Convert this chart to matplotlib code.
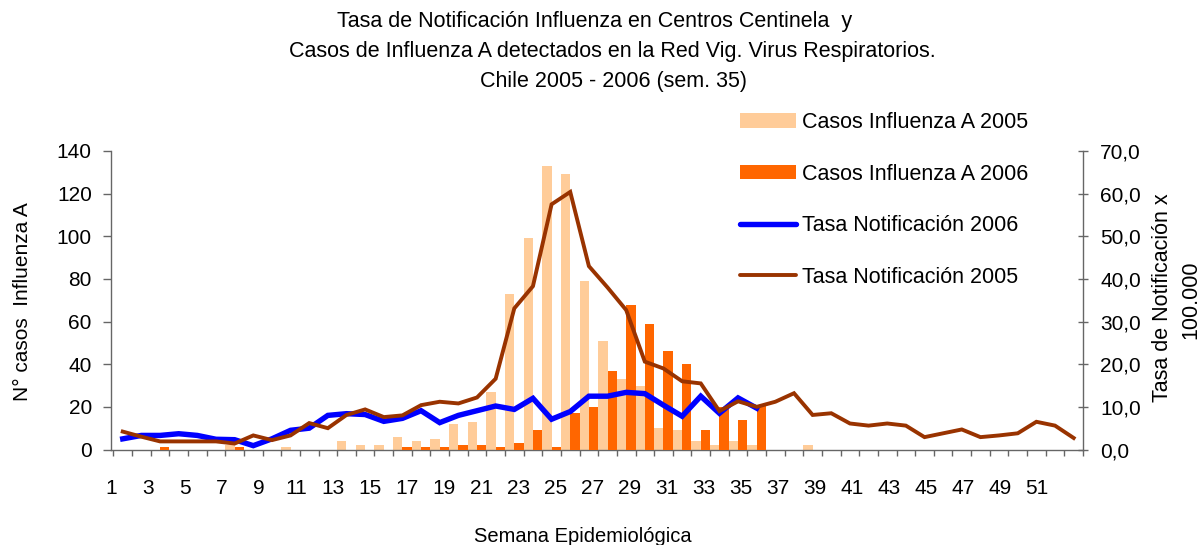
import numpy as np
import matplotlib
matplotlib.use("Agg")
import matplotlib.pyplot as plt
from matplotlib.patches import Patch
from matplotlib.lines import Line2D

plt.rcParams['font.family'] = ['Liberation Sans', 'DejaVu Sans']

# ---------------- data ----------------
weeks = list(range(1, 53))
casos_2005 = [0, 0, 0, 0, 0, 0, 2, 0, 0, 1, 0, 0, 4, 2, 2, 6, 4, 5, 12, 13,
              27, 73, 99, 133, 129, 79, 51, 33, 30, 10, 9, 4, 2, 4, 2, 0, 0, 2,
              0, 0, 0, 0, 0, 0, 0, 0, 0, 0, 0, 0, 0, 0]
weeks_2006 = list(range(1, 36))
casos_2006 = [0, 0, 1, 0, 0, 0, 1, 0, 0, 0, 0, 0, 0, 0, 0, 1, 1, 1, 2, 2,
              1, 3, 9, 1, 17, 20, 37, 68, 59, 46, 40, 9, 20, 14, 21]
tasa_2006 = [2.5, 3.3, 3.3, 3.7, 3.3, 2.4, 2.3, 0.9, 2.5, 4.5, 5.0, 8.0, 8.4,
             8.2, 6.6, 7.3, 9.1, 6.3, 8.0, 9.1, 10.2, 9.4, 12.0, 7.1, 8.9,
             12.5, 12.5, 13.4, 13.1, 10.4, 7.8, 12.5, 8.5, 12.1, 9.7]
tasa_2005 = [4.2, 3.0, 1.9, 1.9, 1.9, 1.9, 1.4, 3.3, 2.2, 3.3, 6.2, 5.0, 8.1,
             9.4, 7.6, 8.0, 10.4, 11.2, 10.8, 12.2, 16.6, 33.1, 38.3, 57.5,
             60.4, 43.0, 38.0, 32.7, 20.6, 19.0, 16.0, 15.5, 9.0, 11.3, 10.0,
             11.2, 13.2, 8.1, 8.5, 6.1, 5.6, 6.1, 5.6, 2.9, 3.8, 4.7, 2.9, 3.3,
             3.8, 6.5, 5.6, 2.7]
x_labels = [str(w) for w in range(1, 53, 2)]
left_ticks = [0, 20, 40, 60, 80, 100, 120, 140]
right_ticks = [0, 10, 20, 30, 40, 50, 60, 70]

c_2005 = '#FFCC99'
c_2006 = '#FF6600'
c_blue = '#0000FF'
c_brown = '#993300'
c_axis = '#666666'

W, H = 1204, 545
fig = plt.figure(figsize=(W / 100, H / 100), dpi=100)
ax = fig.add_axes([111 / W, 95.5 / H, 972 / W, 298.5 / H])

wk = np.array(weeks)
wk6 = np.array(weeks_2006)
ax.bar(wk - 0.25, casos_2005, width=0.5, color=c_2005, linewidth=0, zorder=2)
ax.bar(wk6 + 0.25, casos_2006, width=0.5, color=c_2006, linewidth=0, zorder=3)

ax.set_xlim(0.5, 52.5)
ax.set_ylim(0, 140)
ax.set_yticks(left_ticks)
ax.set_yticklabels([str(v) for v in left_ticks])

# x labels (slightly drifted like the source rendering)
lab_idx = np.arange(1, 53, 2)
ax.set_xticks(0.37 + (lab_idx - 1) * 0.9935)
ax.set_xticklabels(x_labels)
ax.set_xticks(np.arange(0.5, 53, 1), minor=True)
ax.tick_params(axis='x', which='major', length=0, pad=21, labelsize=15)
ax.tick_params(axis='x', which='minor', length=4, width=1, direction='out', color=c_axis)
ax.tick_params(axis='y', which='major', length=5.8, width=1, direction='out',
               color=c_axis, pad=8, labelsize=15)
for s in ['top', 'right']:
    ax.spines[s].set_visible(False)
for s in ['left', 'bottom']:
    ax.spines[s].set_color(c_axis)
    ax.spines[s].set_linewidth(1)

ax2 = ax.twinx()
ax2.set_ylim(0, 70)
ax2.set_yticks(right_ticks)
ax2.set_yticklabels([f"{v:.1f}".replace('.', ',') for v in right_ticks])
ax2.tick_params(axis='y', which='major', length=7, width=1, direction='inout',
                color=c_axis, pad=9, labelsize=15)
for s in ['top', 'left', 'bottom']:
    ax2.spines[s].set_visible(False)
ax2.spines['right'].set_color(c_axis)
ax2.spines['right'].set_linewidth(1)

ax2.plot(wk6, tasa_2006, color=c_blue, linewidth=3.9, solid_joinstyle='miter', zorder=3)
ax2.plot(wk, tasa_2005, color=c_brown, linewidth=2.8, solid_joinstyle='miter', zorder=4)

# titles and labels
fig.text(595 / W, 1 - 21 / H, 'Tasa de Notificación Influenza en Centros Centinela  y',
         ha='center', va='center', fontsize=15.5)
fig.text(612 / W, 1 - 52 / H,
         'Casos de Influenza A detectados en la Red Vig. Virus Respiratorios.',
         ha='center', va='center', fontsize=15.5)
fig.text(613 / W, 1 - 82 / H, 'Chile 2005 - 2006 (sem. 35)',
         ha='center', va='center', fontsize=15.5)
fig.text(582.5 / W, 1 - 537 / H, 'Semana Epidemiológica',
         ha='center', va='center', fontsize=14.5)
fig.text(22 / W, 1 - 302 / H, 'N° casos  Influenza A', rotation=90,
         ha='center', va='center', fontsize=15)
fig.text(1162 / W, 1 - 298 / H, 'Tasa de Notificación x', rotation=90,
         ha='center', va='center', fontsize=15.5)
fig.text(1191 / W, 1 - 300 / H, '100.000', rotation=90,
         ha='center', va='center', fontsize=15.5)

handles = [Patch(color=c_2005, linewidth=0), Patch(color=c_2006, linewidth=0),
           Line2D([], [], color=c_blue, linewidth=3.9, solid_capstyle='round'),
           Line2D([], [], color=c_brown, linewidth=2.8, solid_capstyle='round')]
labels = ['Casos Influenza A 2005', 'Casos Influenza A 2006',
          'Tasa Notificación 2006', 'Tasa Notificación 2005']
fig.legend(handles, labels, loc='upper left', bbox_to_anchor=(740 / W, 1 - 112 / H),
           frameon=False, fontsize=15.5, borderpad=0, borderaxespad=0,
           handlelength=2.6, handleheight=0.65, handletextpad=0.3, labelspacing=1.42)

fig.savefig('out.png', dpi=100)
